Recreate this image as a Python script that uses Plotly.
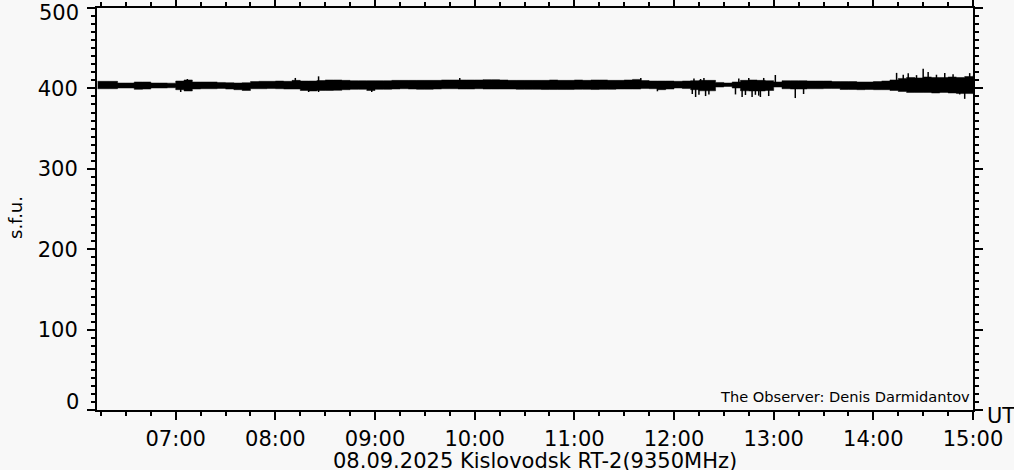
import plotly.graph_objects as go

# ---- data (5-minute envelope of the noisy signal, s.f.u.) ----
times = ["06:13", "06:15", "06:20", "06:25", "06:30", "06:35", "06:40", "06:45", "06:50", "06:55",
         "07:00", "07:05", "07:10", "07:15", "07:20", "07:25", "07:30", "07:35", "07:40", "07:45",
         "07:50", "07:55", "08:00", "08:05", "08:10", "08:15", "08:20", "08:25", "08:30", "08:35",
         "08:40", "08:45", "08:50", "08:55", "09:00", "09:05", "09:10", "09:15", "09:20", "09:25",
         "09:30", "09:35", "09:40", "09:45", "09:50", "09:55", "10:00", "10:05", "10:10", "10:15",
         "10:20", "10:25", "10:30", "10:35", "10:40", "10:45", "10:50", "10:55", "11:00", "11:05",
         "11:10", "11:15", "11:20", "11:25", "11:30", "11:35", "11:40", "11:45", "11:50", "11:55",
         "12:00", "12:05", "12:10", "12:15", "12:20", "12:25", "12:30", "12:35", "12:40", "12:45",
         "12:50", "12:55", "13:00", "13:05", "13:10", "13:15", "13:20", "13:25", "13:30", "13:35",
         "13:40", "13:45", "13:50", "13:55", "14:00", "14:05", "14:10", "14:15", "14:20", "14:25",
         "14:30", "14:35", "14:40", "14:45", "14:50", "14:55", "15:00"]

upper = [408.8, 408.8, 408.8, 406.7, 406.7, 408.0, 408.0, 406.7, 406.7, 406.5,
         409.2, 410.5, 408.0, 408.0, 408.0, 407.4, 407.1, 406.7, 407.1, 408.5,
         408.8, 408.8, 409.2, 408.8, 410.0, 409.2, 409.2, 409.8, 410.5, 410.5,
         410.0, 409.6, 409.6, 409.6, 409.6, 409.6, 410.0, 410.0, 410.0, 410.0,
         410.0, 410.0, 410.5, 410.5, 410.5, 410.5, 410.5, 410.9, 410.9, 410.5,
         410.0, 410.0, 410.0, 410.0, 410.0, 410.5, 410.0, 410.0, 410.5, 410.0,
         410.5, 410.5, 410.0, 410.0, 410.5, 411.2, 409.8, 409.2, 409.2, 409.2,
         408.8, 409.2, 409.6, 410.0, 410.0, 407.4, 406.7, 408.0, 410.0, 410.5,
         410.0, 409.6, 408.0, 409.6, 409.6, 409.6, 409.2, 409.2, 409.2, 408.5,
         408.5, 408.5, 408.0, 408.0, 408.5, 409.2, 410.5, 412.4, 413.6, 413.0,
         414.2, 413.6, 413.6, 414.2, 413.6, 414.8, 416.0]

lower = [399.6, 399.6, 399.6, 400.5, 400.5, 398.8, 399.2, 400.5, 400.5, 400.8,
         398.4, 396.8, 399.2, 399.6, 399.6, 400.0, 399.2, 398.4, 397.4, 399.6,
         399.6, 399.8, 399.6, 399.2, 399.2, 397.4, 396.8, 397.4, 397.4, 397.6,
         398.4, 398.8, 398.8, 397.4, 398.8, 398.8, 399.2, 399.6, 399.2, 398.8,
         398.8, 399.2, 399.6, 399.6, 399.2, 399.2, 399.6, 399.2, 399.2, 399.2,
         399.2, 398.8, 398.8, 398.8, 398.6, 398.6, 398.6, 398.6, 398.8, 398.8,
         398.6, 398.8, 398.8, 399.2, 399.2, 399.2, 399.8, 399.6, 398.4, 399.2,
         400.5, 399.8, 398.4, 397.0, 397.0, 401.7, 402.4, 400.5, 397.0, 396.8,
         396.8, 397.4, 401.7, 399.6, 399.2, 399.2, 399.6, 399.6, 399.8, 399.8,
         398.6, 398.6, 398.4, 398.6, 398.4, 398.4, 397.4, 396.2, 395.0, 395.0,
         395.0, 394.3, 395.0, 394.3, 393.6, 393.6, 396.0]

spike_times = ["07:03", "07:07", "08:12", "08:20", "08:26", "08:26", "08:58", "09:51", "11:40",
               "11:50", "12:11", "12:12", "12:13", "12:15", "12:16", "12:18", "12:19", "12:21",
               "12:37", "12:39", "12:41", "12:43", "12:45", "12:47", "12:49", "12:51", "12:52",
               "12:54", "12:57", "13:01", "13:13", "13:18", "14:14", "14:18", "14:21", "14:26",
               "14:30", "14:33", "14:38", "14:43", "14:48", "14:52", "14:55", "14:58"]
spike_values = [395.5, 411.7, 413.0, 395.5, 415.0, 395.5, 395.5, 413.0, 413.0,
                396.4, 393.0, 412.4, 389.3, 392.0, 411.7, 413.0, 390.5, 392.5,
                392.5, 412.4, 389.3, 391.8, 413.0, 389.3, 392.0, 391.0, 389.3,
                413.0, 390.5, 416.7, 388.0, 393.0, 419.3, 417.0, 418.7, 416.5,
                424.5, 420.4, 417.0, 419.3, 417.5, 392.5, 387.0, 419.0]
spike_base = 404.0

day = "2025-09-08"
y_ticks = [0, 100, 200, 300, 400, 500]
title_text = "08.09.2025 Kislovodsk RT-2(9350MHz)"
observer_text = "The Observer: Denis Darmidantov"
y_title = "s.f.u."

# ---- build figure ----
tx = [f"{day} {t}" for t in times]
sx, sy = [], []
for t, v in zip(spike_times, spike_values):
    sx += [f"{day} {t}", f"{day} {t}", None]
    sy += [spike_base, v, None]

BG = "#f8f8f8"
FONT = "DejaVu Sans"

fig = go.Figure()
fig.add_trace(go.Scatter(x=tx, y=lower, mode="lines", line=dict(color="black", width=0.5, shape="hv"),
                         showlegend=False, hoverinfo="skip"))
fig.add_trace(go.Scatter(x=tx, y=upper, mode="lines", line=dict(color="black", width=0.5, shape="hv"),
                         fill="tonexty", fillcolor="black", showlegend=False, hoverinfo="skip"))
fig.add_trace(go.Scatter(x=sx, y=sy, mode="lines", line=dict(color="black", width=1.5),
                         showlegend=False, hoverinfo="skip"))

# edge labels (0 and 500) are nudged inward in the reference, so they are placed as annotations
inner_ticktext = ["" if v in (0, 500) else str(v) for v in y_ticks]
edge_labels = [dict(text=str(v), xref="paper", yref="y", x=0, y=v, xshift=-16,
                    yshift=(8 if v == 0 else -5), xanchor="right", yanchor="middle",
                    showarrow=False, font=dict(family=FONT, size=21))
               for v in (0, 500)]

fig.update_layout(
    width=1014, height=470,
    margin=dict(l=97, r=41, t=8, b=60, autoexpand=False),
    paper_bgcolor=BG, plot_bgcolor=BG,
    font=dict(family=FONT, color="black", size=21),
    xaxis=dict(
        type="date", automargin=False,
        range=[f"{day} 06:12:36", f"{day} 15:00"],
        tickformat="%H:%M", dtick=3600000, tick0=f"{day} 00:00",
        showgrid=False, zeroline=False,
        showline=True, linecolor="black", linewidth=2, mirror="allticks",
        ticks="outside", ticklen=8, tickwidth=2, tickcolor="black",
        tickfont=dict(family=FONT, size=21), ticklabelstandoff=1,
        ticklabeloverflow="allow",
        minor=dict(ticks="outside", ticklen=4, tickwidth=2, tickcolor="black",
                   dtick=900000, tick0=f"{day} 00:00", showgrid=False),
    ),
    yaxis=dict(
        automargin=False,
        range=[0, 500], tickvals=y_ticks, ticktext=inner_ticktext,
        showgrid=False, zeroline=False,
        showline=True, linecolor="black", linewidth=2, mirror="allticks",
        ticks="outside", ticklen=8, tickwidth=2, tickcolor="black",
        tickfont=dict(family=FONT, size=21), ticklabelstandoff=5,
        ticklabeloverflow="allow",
        minor=dict(ticks="outside", ticklen=4, tickwidth=2, tickcolor="black",
                   dtick=10, showgrid=False),
    ),
    annotations=edge_labels + [
        dict(text=y_title, xref="paper", yref="paper", x=0, y=0.5, xshift=-82, yshift=-9,
             textangle=-90, xanchor="center", yanchor="middle", showarrow=False,
             font=dict(family=FONT, size=18)),
        dict(text=title_text, xref="paper", yref="paper", x=0.5, y=0, yshift=-37,
             xanchor="center", yanchor="top", showarrow=False, font=dict(family=FONT, size=21)),
        dict(text="UT", xref="paper", yref="paper", x=1, y=0, xshift=12, yshift=8,
             xanchor="left", yanchor="top", showarrow=False, font=dict(family=FONT, size=21)),
        dict(text=observer_text, xref="paper", yref="paper", x=1, y=0, xshift=-1, yshift=3,
             xanchor="right", yanchor="bottom", showarrow=False, font=dict(family=FONT, size=14.6)),
    ],
)

fig.write_html("out.html", config={"displayModeBar": False},
               post_script="document.body.style.margin='0';")
